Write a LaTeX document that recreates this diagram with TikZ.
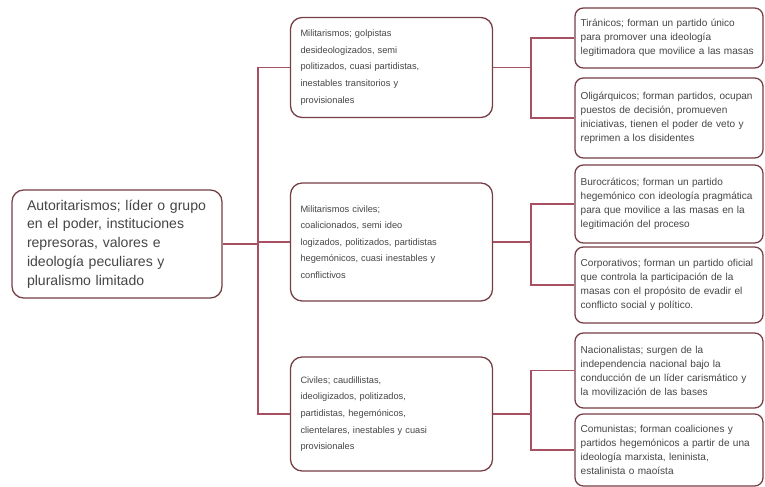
\documentclass[tikz,border=0pt]{standalone}
\usepackage{fontspec}
\setmainfont{Liberation Sans}
\definecolor{boxline}{RGB}{118,62,70}
\definecolor{linkline}{RGB}{166,80,98}
\definecolor{txtgray}{RGB}{70,70,70}

\begin{document}
\begin{tikzpicture}[
            node distance = 8.235cm, % distance between columns
            link/.style = {draw = linkline, line width = 1.5pt}
        ]

        \tikzstyle{rootbox}=[
            draw = boxline,
            line width = 1.1pt,
            fill = white,
            rounded corners = 0.35cm,
            text = txtgray,
            align = left,
            inner xsep = 0.45cm,
            text width = 5.4cm,
            minimum height = 3.24cm,
            font = \fontsize{12}{16}\selectfont
        ]
        \tikzstyle{midbox}=[
            rootbox,
            inner xsep = 0.3cm,
            text width = 5.46cm,
            font = \fontsize{7.9}{14.2}\selectfont
        ]
        \tikzstyle{leafbox}=[
            rootbox,
            rounded corners = 0.25cm,
            inner xsep = 0.17cm,
            text width = 5.3cm,
            minimum height = 1.8cm,
            font = \fontsize{8.6}{12}\selectfont
        ]

        \useasboundingbox (0,0) rectangle (22.95,-14.61);

        \node[rootbox] (root) at (3.51,-7.32) {Autoritarismos; líder o grupo\\en el poder, instituciones\\represoras, valores e\\ideología peculiares y\\pluralismo limitado};

        \node[midbox, minimum height=3.54cm] (m2) [right of=root, yshift=0.06cm] {Militarismos civiles;\\coalicionados, semi ideo\\logizados, politizados, partidistas\\hegemónicos, cuasi inestables y\\conflictivos};
        \node[midbox, minimum height=3cm] (m1) [right of=root, yshift=5.295cm] {Militarismos; golpistas\\desideologizados, semi\\politizados, cuasi partidistas,\\inestables transitorios y\\provisionales};
        \node[midbox, minimum height=3.42cm] (m3) [right of=root, yshift=-5.1cm] {Civiles; caudillistas,\\ideoligizados, politizados,\\partidistas, hegemónicos,\\clientelares, inestables y cuasi\\provisionales};

        \node[leafbox] (r1) [right of=m1, node distance=8.325cm, yshift=0.885cm] {Tiránicos; forman un partido único\\para promover una ideología\\legitimadora que movilice a las masas};
        \node[leafbox, minimum height=2.4cm] (r2) [right of=m1, node distance=8.325cm, yshift=-1.515cm] {Oligárquicos; forman partidos, ocupan\\puestos de decisión, promueven\\iniciativas, tienen el poder de veto y\\reprimen a los disidentes};
        \node[leafbox, minimum height=2.34cm] (r3) [right of=m2, node distance=8.325cm, yshift=1.14cm] {Burocráticos; forman un partido\\hegemónico con ideología pragmática\\para que movilice a las masas en la\\legitimación del proceso};
        \node[leafbox, minimum height=2.28cm] (r4) [right of=m2, node distance=8.325cm, yshift=-1.29cm] {Corporativos; forman un partido oficial\\que controla la participación de la\\masas con el propósito de evadir el\\conflicto social y político.};
        \node[leafbox, minimum height=2.25cm] (r5) [right of=m3, node distance=8.325cm, yshift=1.305cm] {Nacionalistas; surgen de la\\independencia nacional bajo la\\conducción de un líder carismático y\\la movilización de las bases};
        \node[leafbox, minimum height=2.16cm] (r6) [right of=m3, node distance=8.325cm, yshift=-1.08cm] {Comunistas; forman coaliciones y\\partidos hegemónicos a partir de una\\ideología marxista, leninista,\\estalinista o maoísta};

        % first level
        \draw[link] (root.east) -- ++(1.05cm,0) coordinate (j0);
        \draw[link] (j0) |- (m1.west);
        \draw[link] (j0) |- (m2.west);
        \draw[link] (j0) |- (m3.west);

        % second level
        \draw[link] (m1.east) -- ++(1.125cm,0) coordinate (j1);
        \draw[link] (j1) |- (r1.west);
        \draw[link] (j1) |- (r2.west);
        \draw[link] (m2.east) -- ++(1.125cm,0) coordinate (j2);
        \draw[link] (j2) |- (r3.west);
        \draw[link] (j2) |- (r4.west);
        \draw[link] (m3.east) -- ++(1.125cm,0) coordinate (j3);
        \draw[link] (j3) |- (r5.west);
        \draw[link] (j3) |- (r6.west);
    \end{tikzpicture}
\end{document}
